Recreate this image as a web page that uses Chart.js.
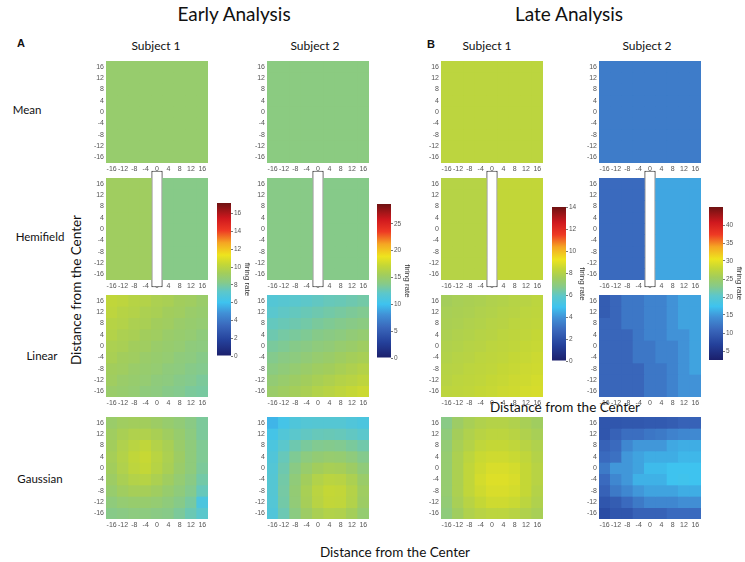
<!DOCTYPE html>
<html>
<head>
<meta charset="utf-8">
<script src="https://cdn.jsdelivr.net/npm/chart.js@4"></script>
<style>
  body { margin: 0; background: #fff; }
  #fig { position: relative; width: 745px; height: 562px; overflow: hidden; font-family: Lato, sans-serif; color: #111; }
  .t { position: absolute; white-space: nowrap; line-height: 1; transform: translate(-50%, -50%); }
  .rot { transform: translate(-50%, -50%) rotate(-90deg); }
  canvas { position: absolute; }
</style>
</head>
<body>
<div id="fig">
  <div class="t" style="left:234px;top:13px;font-size:19px">Early Analysis</div>
  <div class="t" style="left:569px;top:13px;font-size:19px">Late Analysis</div>
  <div class="t" style="left:21px;top:43px;font:bold 11px 'Liberation Sans'">A</div>
  <div class="t" style="left:431px;top:44px;font:bold 11px 'Liberation Sans'">B</div>
  <div class="t" style="left:156px;top:46px;font-size:12px">Subject 1</div>
  <div class="t" style="left:315px;top:46px;font-size:12px">Subject 2</div>
  <div class="t" style="left:487px;top:46px;font-size:12px">Subject 1</div>
  <div class="t" style="left:647px;top:46px;font-size:12px">Subject 2</div>
  <div class="t" style="left:27px;top:110px;font-size:11.5px">Mean</div>
  <div class="t" style="left:40px;top:237px;font-size:11.5px">Hemifield</div>
  <div class="t" style="left:42px;top:356px;font-size:11.5px">Linear</div>
  <div class="t" style="left:40px;top:479px;font-size:11.5px">Gaussian</div>
  <div class="t rot" style="left:77px;top:290px;font-size:13.5px">Distance from the Center</div>
  <div class="t" style="left:565px;top:408px;font-size:13.5px">Distance from the Center</div>
  <div class="t" style="left:395px;top:553px;font-size:13.5px">Distance from the Center</div>
</div>
<script>
// grid axes (cells of 4 units, rows listed top to bottom)
const xLabels = ['-16', '-12', '-8', '-4', '0', '4', '8', '12', '16'];
const yCenters = [16, 12, 8, 4, 0, -4, -8, -12, -16];
const axisTicks = [-16, -12, -8, -4, 0, 4, 8, 12, 16];

// colour scale range and colorbar ticks per column
const earlyS1Range = [0, 17.2];
const earlyS2Range = [0, 28.7];
const lateS1Range = [0, 14];
const lateS2Range = [2.5, 45];
const earlyS1Ticks = [0, 2, 4, 6, 8, 10, 12, 14, 16];
const earlyS2Ticks = [0, 5, 10, 15, 20, 25];
const lateS1Ticks = [0, 2, 4, 6, 8, 10, 12, 14];
const lateS2Ticks = [5, 10, 15, 20, 25, 30, 35, 40];

// Mean model: one firing rate
const earlyS1Mean = 8.9;
const earlyS2Mean = 14.1;
const lateS1Mean = 8.2;
const lateS2Mean = 12.7;

// Hemifield model: [left, right]
const earlyS1Hemi = [9.2, 8.3];
const earlyS2Hemi = [13.9, 13.8];
const lateS1Hemi = [8.05, 8.35];
const lateS2Hemi = [11.2, 15.7];

// Linear model
const earlyS1Linear = [
  [10.2, 10.1, 9.9, 9.8, 9.6, 9.5, 9.3, 9.2, 9.0],
  [10.1, 9.9, 9.8, 9.6, 9.5, 9.3, 9.2, 9.0, 8.9],
  [9.9, 9.8, 9.6, 9.5, 9.3, 9.2, 9.0, 8.9, 8.8],
  [9.8, 9.6, 9.5, 9.3, 9.2, 9.0, 8.9, 8.8, 8.6],
  [9.6, 9.5, 9.3, 9.2, 9.0, 8.9, 8.8, 8.6, 8.5],
  [9.5, 9.3, 9.2, 9.0, 8.9, 8.8, 8.6, 8.5, 8.3],
  [9.3, 9.2, 9.0, 8.9, 8.8, 8.6, 8.5, 8.3, 8.2],
  [9.2, 9.0, 8.9, 8.8, 8.6, 8.5, 8.3, 8.2, 8.0],
  [9.0, 8.9, 8.8, 8.6, 8.5, 8.3, 8.2, 8.0, 7.9]
];
const earlyS2Linear = [
  [11.5, 11.7, 11.9, 12.1, 12.3, 12.5, 12.6, 12.8, 13.0],
  [11.9, 12.2, 12.4, 12.6, 12.8, 13.0, 13.2, 13.4, 13.6],
  [12.4, 12.6, 12.8, 13.0, 13.3, 13.5, 13.7, 13.9, 14.1],
  [12.8, 13.1, 13.3, 13.5, 13.8, 14.0, 14.2, 14.5, 14.7],
  [13.3, 13.5, 13.8, 14.0, 14.3, 14.5, 14.8, 15.0, 15.3],
  [13.7, 14.0, 14.2, 14.5, 14.8, 15.0, 15.3, 15.6, 15.8],
  [14.1, 14.4, 14.7, 15.0, 15.3, 15.5, 15.8, 16.1, 16.4],
  [14.6, 14.9, 15.2, 15.5, 15.8, 16.1, 16.4, 16.6, 16.9],
  [15.0, 15.3, 15.6, 15.9, 16.3, 16.6, 16.9, 17.2, 17.5]
];
const lateS1Linear = [
  [7.60, 7.70, 7.75, 7.80, 7.90, 7.95, 8.05, 8.10, 8.20],
  [7.70, 7.75, 7.80, 7.90, 7.95, 8.05, 8.10, 8.20, 8.25],
  [7.75, 7.80, 7.90, 7.95, 8.05, 8.10, 8.20, 8.25, 8.30],
  [7.80, 7.90, 7.95, 8.05, 8.10, 8.20, 8.25, 8.30, 8.40],
  [7.90, 7.95, 8.05, 8.10, 8.20, 8.25, 8.30, 8.40, 8.45],
  [7.95, 8.05, 8.10, 8.20, 8.25, 8.30, 8.40, 8.45, 8.55],
  [8.05, 8.10, 8.20, 8.25, 8.30, 8.40, 8.45, 8.55, 8.60],
  [8.10, 8.20, 8.25, 8.30, 8.40, 8.45, 8.55, 8.60, 8.70],
  [8.20, 8.25, 8.30, 8.40, 8.45, 8.55, 8.60, 8.70, 8.75]
];
const lateS2Linear = [
  [9.8, 10.8, 12.3, 12.3, 13.3, 13.3, 14.5, 15.5, 15.5],
  [9.8, 10.8, 12.3, 12.3, 13.3, 13.3, 14.5, 15.5, 15.5],
  [10.8, 10.8, 12.3, 12.3, 13.3, 13.3, 14.5, 15.5, 15.5],
  [10.8, 10.8, 10.8, 12.3, 13.3, 13.3, 14.5, 14.5, 15.5],
  [10.8, 10.8, 10.8, 12.3, 12.3, 13.3, 13.3, 14.5, 15.5],
  [10.8, 10.8, 10.8, 12.3, 12.3, 13.3, 13.3, 14.5, 15.5],
  [10.8, 10.8, 10.8, 10.8, 12.3, 12.3, 13.3, 14.5, 15.5],
  [10.8, 10.8, 10.8, 10.8, 12.3, 12.3, 13.3, 14.5, 14.5],
  [10.8, 10.8, 10.8, 10.8, 12.3, 12.3, 13.3, 14.5, 14.5]
];

// Gaussian model
const earlyS1Gauss = [
  [9.0, 9.2, 9.3, 9.3, 9.1, 8.9, 8.7, 8.4, 8.0],
  [9.2, 9.5, 9.7, 9.7, 9.5, 9.2, 8.9, 8.5, 8.0],
  [9.3, 9.7, 10.0, 10.2, 9.8, 9.5, 9.0, 8.6, 8.1],
  [9.4, 9.8, 10.2, 10.4, 10.0, 9.6, 9.1, 8.6, 8.1],
  [9.3, 9.7, 10.1, 10.3, 9.9, 9.5, 9.0, 8.6, 8.0],
  [9.1, 9.5, 9.8, 9.9, 9.6, 9.2, 8.8, 8.4, 7.8],
  [8.9, 9.2, 9.4, 9.4, 9.2, 8.9, 8.6, 8.2, 7.5],
  [8.6, 8.8, 8.9, 8.9, 8.8, 8.6, 8.3, 7.9, 6.6],
  [8.3, 8.4, 8.5, 8.5, 8.4, 8.3, 8.0, 7.6, 7.2]
];
const earlyS2Gauss = [
  [9.5, 10.5, 11.2, 11.5, 11.6, 11.6, 11.6, 11.3, 11.0],
  [10.5, 11.4, 12.0, 12.3, 12.5, 12.6, 12.5, 12.3, 12.0],
  [11.0, 12.0, 12.8, 13.3, 13.6, 13.7, 13.6, 13.3, 12.9],
  [11.3, 12.5, 13.5, 14.2, 14.6, 14.8, 14.7, 14.3, 13.7],
  [11.5, 12.8, 14.0, 14.9, 15.5, 15.8, 15.7, 15.2, 14.4],
  [11.6, 13.0, 14.4, 15.5, 16.3, 16.7, 16.6, 16.0, 15.0],
  [11.6, 13.1, 14.6, 15.8, 16.7, 17.2, 17.1, 16.4, 15.3],
  [11.5, 13.0, 14.5, 15.7, 16.6, 17.1, 17.0, 16.3, 15.2],
  [11.3, 12.7, 14.1, 15.2, 15.9, 16.3, 16.2, 15.6, 14.7]
];
const lateS1Gauss = [
  [6.8, 7.4, 7.7, 7.9, 8.0, 8.0, 7.9, 7.7, 7.5],
  [7.0, 7.6, 7.9, 8.1, 8.2, 8.2, 8.1, 7.9, 7.7],
  [7.1, 7.7, 8.0, 8.3, 8.4, 8.4, 8.3, 8.1, 7.9],
  [7.2, 7.8, 8.2, 8.5, 8.6, 8.6, 8.5, 8.3, 8.0],
  [7.2, 7.8, 8.3, 8.6, 8.8, 8.8, 8.7, 8.4, 8.1],
  [7.2, 7.8, 8.3, 8.7, 8.9, 8.9, 8.8, 8.4, 8.1],
  [7.2, 7.8, 8.3, 8.6, 8.8, 8.8, 8.7, 8.4, 8.0],
  [7.1, 7.7, 8.1, 8.4, 8.6, 8.6, 8.5, 8.2, 7.9],
  [7.0, 7.5, 7.9, 8.1, 8.2, 8.2, 8.1, 7.9, 7.7]
];
const lateS2Gauss = [
  [9.1, 9.1, 9.3, 9.3, 9.5, 9.5, 9.8, 10.4, 10.4],
  [9.1, 10.4, 11.5, 11.5, 12.2, 12.5, 13.2, 13.6, 13.8],
  [10.4, 11.2, 13.6, 14.8, 14.8, 14.8, 15.8, 16.1, 16.1],
  [11.2, 11.8, 14.8, 15.5, 16.1, 16.1, 16.1, 16.7, 16.7],
  [12.5, 14.8, 14.8, 15.5, 16.9, 16.9, 17.4, 17.4, 17.4],
  [11.2, 13.6, 14.8, 16.3, 16.3, 16.3, 17.4, 17.6, 17.4],
  [10.4, 12.5, 13.6, 14.8, 15.5, 15.5, 15.5, 16.1, 16.1],
  [9.1, 9.8, 11.2, 12.5, 13.6, 13.6, 13.6, 14.2, 14.2],
  [8.0, 9.1, 9.1, 10.4, 10.4, 10.4, 11.2, 11.2, 11.2]
];

// jet-like colour map used by the figure
const cmapStops = [
  [0.00, '#1b1f6b'], [0.10, '#24409a'], [0.20, '#3a68bc'], [0.28, '#4190d6'],
  [0.35, '#3ec3ef'], [0.42, '#5cc7cb'], [0.48, '#86ca8a'], [0.54, '#a2cd5c'],
  [0.60, '#c4d736'], [0.66, '#eee41e'], [0.74, '#f5a623'], [0.82, '#ee3a24'],
  [0.90, '#cf181e'], [1.00, '#6e1212']
];

function hexRgb(h) {
  return [parseInt(h.slice(1, 3), 16), parseInt(h.slice(3, 5), 16), parseInt(h.slice(5, 7), 16)];
}

function colorFor(v, range) {
  let t = (v - range[0]) / (range[1] - range[0]);
  t = Math.max(0, Math.min(1, t));
  for (let i = 1; i < cmapStops.length; i++) {
    if (t <= cmapStops[i][0]) {
      const [t0, c0] = cmapStops[i - 1];
      const [t1, c1] = cmapStops[i];
      const f = (t - t0) / (t1 - t0);
      const a = hexRgb(c0), b = hexRgb(c1);
      return 'rgb(' + a.map((x, k) => Math.round(x + (b[k] - x) * f)).join(',') + ')';
    }
  }
  return cmapStops[cmapStops.length - 1][1];
}

function fullGrid(v) {
  return yCenters.map(() => xLabels.map(() => v));
}

function hemiGrid(lr) {
  return yCenters.map(() => xLabels.map((_, c) => c < 4 ? lr[0] : c > 4 ? lr[1] : null));
}

const fig = document.getElementById('fig');

function addCanvas(left, top, w, h) {
  const cv = document.createElement('canvas');
  cv.width = w; cv.height = h;
  cv.style.left = left + 'px';
  cv.style.top = top + 'px';
  cv.style.width = w + 'px';
  cv.style.height = h + 'px';
  fig.appendChild(cv);
  return cv;
}

Chart.defaults.font.family = "'Liberation Sans', Arial, sans-serif";
Chart.defaults.color = '#555';

const PW = 102, PH = 102;

function heatmap(left, top, grid, range, withGap) {
  const cv = addCanvas(left - 22, top - 9, PW + 26, PH + 23);
  const datasets = grid.map((row, r) => ({
    data: row.map(v => v == null ? null : [yCenters[r] - 2, yCenters[r] + 2]),
    backgroundColor: row.map(v => v == null ? 'rgba(0,0,0,0)' : colorFor(v, range)),
    borderWidth: 0,
    grouped: false,
    barPercentage: 1,
    categoryPercentage: 1
  }));
  if (withGap) {
    // excluded centre column, drawn as an outlined white strip
    datasets.push({
      data: xLabels.map((_, c) => c === 4 ? [-20.6, 20.6] : null),
      backgroundColor: '#ffffff',
      borderColor: '#333333',
      borderWidth: 1.2,
      borderSkipped: false,
      inflateAmount: 0,
      grouped: false,
      clip: false,
      barPercentage: 1,
      categoryPercentage: 1
    });
  }
  new Chart(cv, {
    type: 'bar',
    data: { labels: xLabels, datasets: datasets },
    options: {
      responsive: false,
      animation: false,
      devicePixelRatio: 1,
      layout: { padding: { left: 4, top: 9, right: 4, bottom: 0 } },
      plugins: { legend: { display: false }, tooltip: { enabled: false } },
      scales: {
        x: {
          offset: true,
          grid: { display: false, drawTicks: false },
          border: { display: false },
          ticks: { autoSkip: false, maxRotation: 0, minRotation: 0, padding: 2, font: { size: 7 } },
          afterFit: s => { s.height = 14; }
        },
        y: {
          type: 'linear', min: -18, max: 18,
          afterBuildTicks: s => { s.ticks = axisTicks.map(v => ({ value: v })); },
          grid: { display: false, drawTicks: false },
          border: { display: false },
          ticks: { padding: 2, font: { size: 7 } },
          afterFit: s => { s.width = 18; }
        }
      }
    }
  });
}

function colorbar(left, top, height, range, ticks) {
  const cv = addCanvas(left, top - 6, 14 + 21, height + 12);
  new Chart(cv, {
    type: 'bar',
    data: {
      labels: ['c'],
      datasets: [{
        data: [range],
        borderWidth: 0,
        inflateAmount: 0,
        barPercentage: 1,
        categoryPercentage: 1,
        backgroundColor: ctx => {
          const chart = ctx.chart;
          if (!chart.chartArea) return cmapStops[0][1];
          const ys = chart.scales.y;
          const g = chart.ctx.createLinearGradient(0, ys.getPixelForValue(range[0]), 0, ys.getPixelForValue(range[1]));
          cmapStops.forEach(s => g.addColorStop(s[0], s[1]));
          return g;
        }
      }]
    },
    options: {
      responsive: false,
      animation: false,
      devicePixelRatio: 1,
      layout: { padding: { left: 0, top: 6, right: 0, bottom: 6 } },
      plugins: { legend: { display: false }, tooltip: { enabled: false } },
      scales: {
        x: { display: false },
        y: {
          position: 'right', min: range[0], max: range[1],
          afterBuildTicks: s => { s.ticks = ticks.map(v => ({ value: v })); },
          grid: { display: true, drawOnChartArea: false, drawTicks: true, tickLength: 2, color: '#777' },
          border: { display: false },
          ticks: { padding: 1, font: { size: 6.5 } },
          title: { display: true, text: 'firing rate', padding: 0, color: '#333', font: { size: 8 } },
          afterFit: s => { s.width = 21; }
        }
      }
    }
  });
}

const colX = [106, 267, 441, 599];
const rowY = [61, 178, 295, 417];

heatmap(colX[0], rowY[0], fullGrid(earlyS1Mean), earlyS1Range, false);
heatmap(colX[1], rowY[0], fullGrid(earlyS2Mean), earlyS2Range, false);
heatmap(colX[2], rowY[0], fullGrid(lateS1Mean), lateS1Range, false);
heatmap(colX[3], rowY[0], fullGrid(lateS2Mean), lateS2Range, false);

heatmap(colX[0], rowY[1], hemiGrid(earlyS1Hemi), earlyS1Range, true);
heatmap(colX[1], rowY[1], hemiGrid(earlyS2Hemi), earlyS2Range, true);
heatmap(colX[2], rowY[1], hemiGrid(lateS1Hemi), lateS1Range, true);
heatmap(colX[3], rowY[1], hemiGrid(lateS2Hemi), lateS2Range, true);

heatmap(colX[0], rowY[2], earlyS1Linear, earlyS1Range, false);
heatmap(colX[1], rowY[2], earlyS2Linear, earlyS2Range, false);
heatmap(colX[2], rowY[2], lateS1Linear, lateS1Range, false);
heatmap(colX[3], rowY[2], lateS2Linear, lateS2Range, false);

heatmap(colX[0], rowY[3], earlyS1Gauss, earlyS1Range, false);
heatmap(colX[1], rowY[3], earlyS2Gauss, earlyS2Range, false);
heatmap(colX[2], rowY[3], lateS1Gauss, lateS1Range, false);
heatmap(colX[3], rowY[3], lateS2Gauss, lateS2Range, false);

colorbar(217, 203, 153, earlyS1Range, earlyS1Ticks);
colorbar(377, 204, 154, earlyS2Range, earlyS2Ticks);
colorbar(552, 207, 154, lateS1Range, lateS1Ticks);
colorbar(709, 207, 153, lateS2Range, lateS2Ticks);
</script>
</body>
</html>
